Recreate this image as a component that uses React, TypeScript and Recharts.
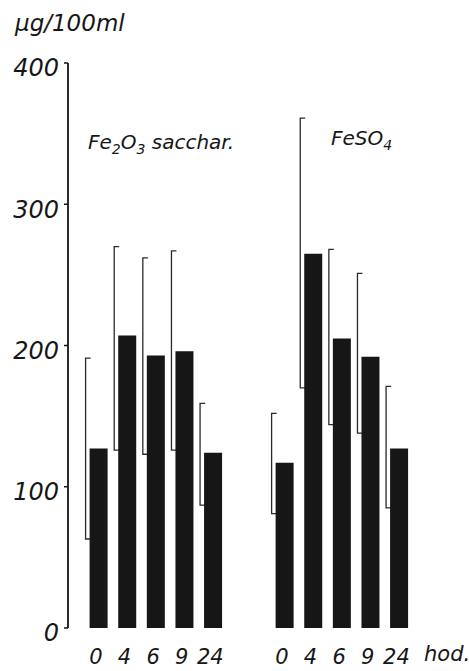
import React from 'react';
import { ComposedChart, Bar, XAxis, YAxis } from 'recharts';

const hours = ['0', '4', '6', '9', '24'];
const slots = [0, 1, 2, 3, 4, 6.5, 7.5, 8.5, 9.5, 10.5];
const yTicks = [0, 100, 200, 300, 400];

const fe2o3Mean = [127, 207, 193, 196, 124];
const fe2o3Low = [63, 126, 123, 126, 87];
const fe2o3High = [191, 270, 262, 267, 159];

const feso4Mean = [117, 265, 205, 192, 127];
const feso4Low = [81, 170, 144, 138, 85];
const feso4High = [152, 361, 268, 251, 171];

const means = [...fe2o3Mean, ...feso4Mean];
const lows = [...fe2o3Low, ...feso4Low];
const highs = [...fe2o3High, ...feso4High];

const data = slots.map((slot, i) => ({
  slot,
  hour: hours[i % hours.length],
  mean: means[i],
  range: [lows[i], highs[i]],
}));

const ink = '#161616';
const font = '"DejaVu Sans", sans-serif';

const Bracket = (props: any) => {
  const { x, y, height } = props;
  const bx = x - 4;
  return (
    <path
      d={`M ${bx + 5} ${y} H ${bx} V ${y + height} H ${bx + 5}`}
      fill="none"
      stroke="#2a2a2a"
      strokeWidth={1.3}
    />
  );
};

const YTick = (props: any) => {
  const { x, y, payload } = props;
  return (
    <text x={x - 3} y={y + 5} dy="0.35em" textAnchor="end" fontSize={24} fontStyle="italic" fontFamily={font} fill={ink}>
      {payload.value}
    </text>
  );
};

const XTick = (props: any) => {
  const { x, y, index } = props;
  return (
    <text x={x - 3} y={y + 21} dy="0.35em" textAnchor="middle" fontSize={21} fontStyle="italic" fontFamily={font} fill={ink}>
      {data[index]?.hour}
    </text>
  );
};

const label: React.CSSProperties = {
  position: 'absolute',
  fontFamily: font,
  fontStyle: 'italic',
  color: ink,
  whiteSpace: 'nowrap',
  lineHeight: 1,
};

export default function App() {
  return (
    <div style={{ position: 'absolute', left: 0, top: 0, width: 469, height: 671, background: '#fff' }}>
      <ComposedChart width={469} height={671} data={data} margin={{ top: 63, right: 49, bottom: 0, left: 0 }}>
        <XAxis
          xAxisId="bars"
          dataKey="slot"
          type="number"
          domain={[-1.08, 11.22]}
          ticks={slots}
          allowDataOverflow
          axisLine={false}
          tickLine={false}
          height={43}
          tick={<XTick />}
          interval={0}
        />
        <XAxis xAxisId="err" dataKey="slot" type="number" domain={[-1.08, 11.22]} allowDataOverflow hide />
        <YAxis
          domain={[0, 400]}
          ticks={yTicks}
          width={68}
          axisLine={{ stroke: ink, strokeWidth: 1.8 }}
          tickLine={{ stroke: ink, strokeWidth: 1.5 }}
          tickSize={4}
          tick={<YTick />}
        />
        <Bar xAxisId="err" dataKey="range" barSize={18} shape={<Bracket />} isAnimationActive={false} />
        <Bar xAxisId="bars" dataKey="mean" barSize={18} fill={ink} isAnimationActive={false} />
      </ComposedChart>
      <div style={{ ...label, left: 15, top: 12, fontSize: 23 }}>μg/100ml</div>
      <div style={{ ...label, left: 88, top: 132, fontSize: 20 }}>
        Fe<sub style={{ fontSize: 14 }}>2</sub>O<sub style={{ fontSize: 14 }}>3</sub> sacchar.
      </div>
      <div style={{ ...label, left: 331, top: 128, fontSize: 20 }}>
        FeSO<sub style={{ fontSize: 14 }}>4</sub>
      </div>
      <div style={{ ...label, left: 424, top: 644, fontSize: 21 }}>hod.</div>
    </div>
  );
}
